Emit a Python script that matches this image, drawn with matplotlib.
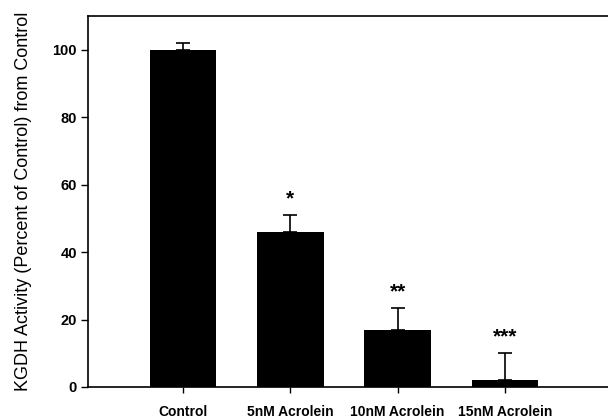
import matplotlib.pyplot as plt
import numpy as np

# KGDH activity vs acrolein dose
groups = ["Control", "5nM Acrolein", "10nM Acrolein", "15nM Acrolein"]
activity = [100, 46, 17, 2]
sem = [2, 5, 6.5, 8]
stars = ["", "*", "**", "***"]

plt.rcParams["font.family"] = ["Liberation Sans", "DejaVu Sans"]

fig = plt.figure(figsize=(6.08, 4.19), dpi=100)
ax = fig.add_axes([0.1447, 0.0764, 0.8553, 0.8854])

x = np.arange(len(groups))
ax.bar(x, activity, width=0.62, color="black", zorder=2)
ax.errorbar(x, activity, yerr=[np.zeros(len(sem)), sem], fmt="none",
            ecolor="black", elinewidth=1.2, capsize=5, capthick=1.2, zorder=3)

for xi, val, err, s in zip(x, activity, sem, stars):
    if s:
        ax.text(xi, val + err + 2, s, ha="center", va="bottom",
                fontsize=15, fontweight="bold")

ax.set_xlim(-0.885, 3.96)
ax.set_ylim(0, 110)
ax.set_yticks([0, 20, 40, 60, 80, 100])
ax.set_xticks(x)
ax.set_xticklabels(groups, fontsize=10, fontweight="bold")
for lab in ax.get_yticklabels():
    lab.set_fontweight("bold")
    lab.set_fontsize(10.5)
ax.tick_params(axis="y", direction="out", length=5, width=1, pad=3)
ax.tick_params(axis="x", direction="out", length=4, width=1, pad=9)

ax.set_ylabel("KGDH Activity (Percent of Control) from Control",
              fontsize=13, labelpad=15)

ax.spines["right"].set_visible(False)
for side in ["left", "top", "bottom"]:
    ax.spines[side].set_linewidth(1.2)

fig.savefig("out.png", dpi=100)
